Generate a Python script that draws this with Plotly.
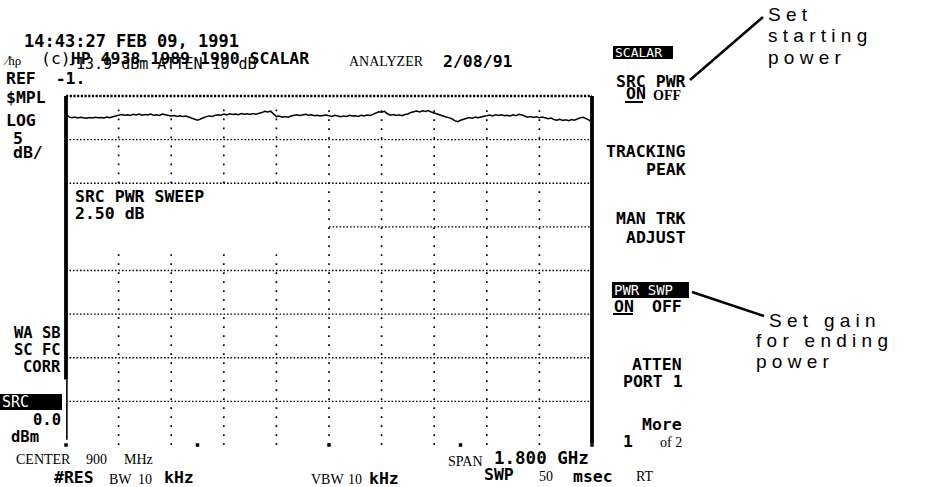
import plotly.graph_objects as go

# ---- instrument settings -------------------------------------------------
CENTER_MHZ = 900
SPAN_MHZ = 1800
DB_PER_DIV = 5
N_VDIV = 8
N_HDIV = 10
REF_DB = 0.0
SWEEP_STEP_DB = 2.50

# ---- measured trace (relative level, dB), one point every 10 MHz ---------
freq_mhz = [i * 10 for i in range(181)]
level_db = [
    -2.05, -2.40, -2.48, -2.42, -2.52, -2.45, -2.50, -2.55, -2.46, -2.52,
    -2.44, -2.50, -2.47, -2.53, -2.42, -2.48, -2.38, -2.32, -2.26, -2.12,
    -2.20, -2.14, -2.22, -2.10, -2.18, -2.08, -2.20, -2.12, -2.18, -2.06,
    -2.20, -2.14, -2.24, -2.08, -2.16, -2.22, -2.30, -2.24, -2.34, -2.26,
    -2.36, -2.30, -2.42, -2.56, -2.70, -2.76, -2.64, -2.46, -2.36, -2.28,
    -2.34, -2.22, -2.14, -2.20, -2.08, -2.16, -2.04, -2.12, -2.06, -2.14,
    -2.02, -2.10, -2.04, -2.12, -2.00, -2.08, -2.02, -1.90, -1.76, -1.84,
    -1.74, -2.02, -2.36, -2.30, -2.44, -2.36, -2.42, -2.30, -2.22, -2.14,
    -2.24, -2.18, -2.10, -2.20, -2.16, -2.26, -2.20, -2.30, -2.24, -2.18,
    -2.26, -2.34, -2.22, -2.30, -2.38, -2.28, -2.34, -2.22, -2.30, -2.26,
    -2.34, -2.20, -2.28, -2.18, -2.24, -2.10, -1.96, -1.80, -1.86, -1.76,
    -2.04, -2.20, -2.12, -2.24, -2.16, -2.26, -2.12, -2.06, -1.88, -1.78,
    -1.72, -1.82, -1.70, -1.78, -1.68, -1.84, -1.96, -2.10, -2.22, -2.30,
    -2.40, -2.48, -2.60, -2.82, -2.94, -2.78, -2.66, -2.54, -2.48, -2.56,
    -2.42, -2.50, -2.38, -2.32, -2.26, -2.18, -2.28, -2.14, -2.24, -2.16,
    -2.26, -2.20, -2.30, -2.16, -2.26, -2.10, -2.18, -2.32, -2.42, -2.36,
    -2.46, -2.38, -2.50, -2.42, -2.54, -2.60, -2.52, -2.70, -2.78, -2.66,
    -2.80, -2.72, -2.82, -2.70, -2.78, -2.62, -2.50, -2.44, -2.58, -2.76,
    -3.10,
]

# ---- screen geometry ------------------------------------------------------
W, H = 925, 487
GX0, GX1 = 66, 592      # graticule left/right (px)
GY0, GY1 = 96, 445      # graticule top/bottom (px)

f_lo = CENTER_MHZ - SPAN_MHZ / 2
f_hi = CENTER_MHZ + SPAN_MHZ / 2
db_top = REF_DB
db_bot = REF_DB - N_VDIV * DB_PER_DIV

X_PAD, Y_PAD = 30.0, 1.0
px_per_mhz = (GX1 - GX0) / SPAN_MHZ
px_per_db = (GY1 - GY0) / (N_VDIV * DB_PER_DIV)
x_dom = [(GX0 - X_PAD * px_per_mhz) / W, (GX1 + X_PAD * px_per_mhz) / W]
y_dom = [1 - (GY1 + Y_PAD * px_per_db) / H, 1 - (GY0 - Y_PAD * px_per_db) / H]

MONO = "DejaVu Sans Mono"
SERIF = "Liberation Serif"
SANS = "Liberation Sans"
HP = 16.5   # size of the instrument's screen font

fig = go.Figure()


def seg(xs, ys, width, dash="solid", color="black"):
    fig.add_trace(go.Scatter(x=xs, y=ys, mode="lines", hoverinfo="skip",
                             line=dict(color=color, width=width, dash=dash)))


# horizontal graticule lines
hdash = "1.6px,1.9px"
for k in range(1, N_VDIV):
    lvl = REF_DB - k * DB_PER_DIV
    x_start = CENTER_MHZ if k == 3 else f_lo
    seg([x_start, f_hi], [lvl, lvl], 1.4, hdash)

# top border
seg([f_lo, f_hi], [db_top, db_top], 2.4, "2.2px,1.5px")

# vertical graticule lines (sparse dots)
vdash = "1.8px,7.2px"
div_mhz = SPAN_MHZ / N_HDIV
for k in range(1, N_HDIV):
    f = f_lo + k * div_mhz
    if f < CENTER_MHZ:
        seg([f, f], [db_bot, REF_DB - 3.55 * DB_PER_DIV], 1.7, vdash)
        seg([f, f], [REF_DB - 2 * DB_PER_DIV, db_top - 0.8], 1.7, vdash)
    else:
        seg([f, f], [db_bot, db_top - 0.8], 1.7, vdash)

# bottom graticule dots
fig.add_trace(go.Scatter(
    x=[f_lo + j * SPAN_MHZ / 4 for j in range(5)], y=[db_bot] * 5,
    mode="markers", hoverinfo="skip",
    marker=dict(symbol="square", size=3.5, color="black")))

# left and right borders
seg([f_lo, f_lo], [db_top, REF_DB - 6.5 * DB_PER_DIV], 3.8)
seg([f_lo + 3, f_lo + 3], [REF_DB - 6.5 * DB_PER_DIV, db_bot + 0.6], 1.6)
seg([f_hi, f_hi], [db_top, db_bot + 0.2], 3.8)

# measured trace
fig.add_trace(go.Scatter(x=freq_mhz, y=level_db, mode="lines", hoverinfo="skip",
                         line=dict(color="black", width=1.5)))

annotations = []
shapes = []


def txt(s, x, y, size=HP, family=MONO, bold=True, anchor="left",
        color="black"):
    annotations.append(dict(
        text=f"<b>{s}</b>" if bold else s,
        x=x / W, y=1 - y / H, xref="paper", yref="paper",
        xanchor=anchor, yanchor="middle", showarrow=False,
        font=dict(family=family, size=size, color=color), borderpad=0))


def box(x0, y0, x1, y1):
    shapes.append(dict(type="rect", xref="paper", yref="paper",
                       x0=x0 / W, x1=x1 / W, y0=1 - y1 / H, y1=1 - y0 / H,
                       fillcolor="black", line=dict(width=0), layer="below"))


def line(x0, y0, x1, y1, width=2.5):
    shapes.append(dict(type="line", xref="paper", yref="paper",
                       x0=x0 / W, x1=x1 / W, y0=1 - y0 / H, y1=1 - y1 / H,
                       line=dict(color="black", width=width)))


# header
txt("14:43:27 FEB 09, 1991", 23, 41, 17)
txt("\u2215\u0127\u03c1", 2, 60, 13, SERIF, bold=False)
txt("(c)<b>HP 4938 1989 1990 SCALAR</b>", 40, 59, 16.5, bold=False)
txt("-13.9 dBm ATTEN 10 dB", 66, 64, 15, bold=False)
txt("ANALYZER", 348, 61, 14, SERIF, bold=False)
txt("2/08/91", 442, 61, 16.5)

# left labels
txt("REF  -1.", 5, 78, HP)
txt("$MPL", 5, 98, HP)
txt("LOG", 5, 120, HP)
txt("5", 12, 138, HP)
txt("dB/", 12, 153, HP)
txt("WA SB", 62, 333, 15.5, anchor="right")
txt("SC FC", 62, 350, 15.5, anchor="right")
txt("CORR", 62, 367, 15.5, anchor="right")
box(0, 394, 62, 410)
txt("SRC", 1, 402, 15, bold=False, color="white")
txt("0.0", 62, 420, 15.5, anchor="right")
txt("dBm", 10, 437, 15.5)

# on-screen sweep readout
txt("SRC PWR SWEEP", 74, 197, HP)
txt(f"{SWEEP_STEP_DB:.2f} dB", 74, 213, HP)

# bottom annotation line
txt("CENTER", 15, 459, 14, SERIF, bold=False)
txt(f"{CENTER_MHZ}", 85, 459, 14, SERIF, bold=False)
txt("MHz", 123, 459, 14, SERIF, bold=False)
txt("#RES", 53, 477, HP)
txt("BW", 108, 479, 14, SERIF, bold=False)
txt("10", 137, 479, 14, SERIF, bold=False)
txt("kHz", 163, 477, HP)
txt("VBW", 310, 479, 14, SERIF, bold=False)
txt("10", 347, 479, 14, SERIF, bold=False)
txt("kHz", 368, 478, HP)
txt("SPAN", 447, 461, 14, SERIF, bold=False)
txt(f"{SPAN_MHZ / 1000:.3f} GHz", 493, 458, 17.5)
txt("SWP", 483, 474, HP)
txt("50", 538, 476, 14, SERIF, bold=False)
txt("msec", 572, 476, HP)
txt("RT", 635, 476, 14, SERIF, bold=False)

# softkey column
box(613, 46, 673, 59)
txt("SCALAR", 614, 52, 13, bold=False, color="white")
txt("SRC PWR", 687, 82, HP, anchor="right")
txt("ON", 625, 94, HP)
line(625, 102, 643, 102, 2)
txt("OFF", 682, 95, 14, SERIF, anchor="right")
txt("TRACKING", 687, 151, HP, anchor="right")
txt("PEAK", 687, 169, HP, anchor="right")
txt("MAN TRK", 687, 218, HP, anchor="right")
txt("ADJUST", 687, 237, HP, anchor="right")
box(612, 282, 689, 298)
txt("PWR SWP", 613, 290, 14, bold=False, color="white")
txt("ON", 613, 306, HP)
line(613, 314, 633, 314, 2)
txt("OFF", 683, 306, HP, anchor="right")
txt("ATTEN", 683, 364, HP, anchor="right")
txt("PORT 1", 684, 381, HP, anchor="right")
txt("More", 683, 424, HP, anchor="right")
txt("1", 622, 441, HP)
txt("of 2", 683, 442, 14, SERIF, bold=False, anchor="right")

# callouts
line(690, 80, 763, 17, 2.5)
line(692, 292, 764, 316, 2.5)
txt("S e t", 767, 15, 19, SANS, bold=False)
txt("s t a r t i n g", 767, 36, 19, SANS, bold=False)
txt("p o w e r", 767, 58, 19, SANS, bold=False)
txt("S e t   g a i n", 768, 320, 19, SANS, bold=False)
txt("f o r   e n d i n g", 755, 340, 19, SANS, bold=False)
txt("p o w e r", 755, 361, 19, SANS, bold=False)

fig.update_layout(
    width=W, height=H, margin=dict(l=0, r=0, t=0, b=0),
    paper_bgcolor="white", plot_bgcolor="white", showlegend=False,
    xaxis=dict(domain=x_dom, range=[f_lo - X_PAD, f_hi + X_PAD], visible=False),
    yaxis=dict(domain=y_dom, range=[db_bot - Y_PAD, db_top + Y_PAD], visible=False),
    annotations=annotations, shapes=shapes,
)

fig.write_html("out.html")
